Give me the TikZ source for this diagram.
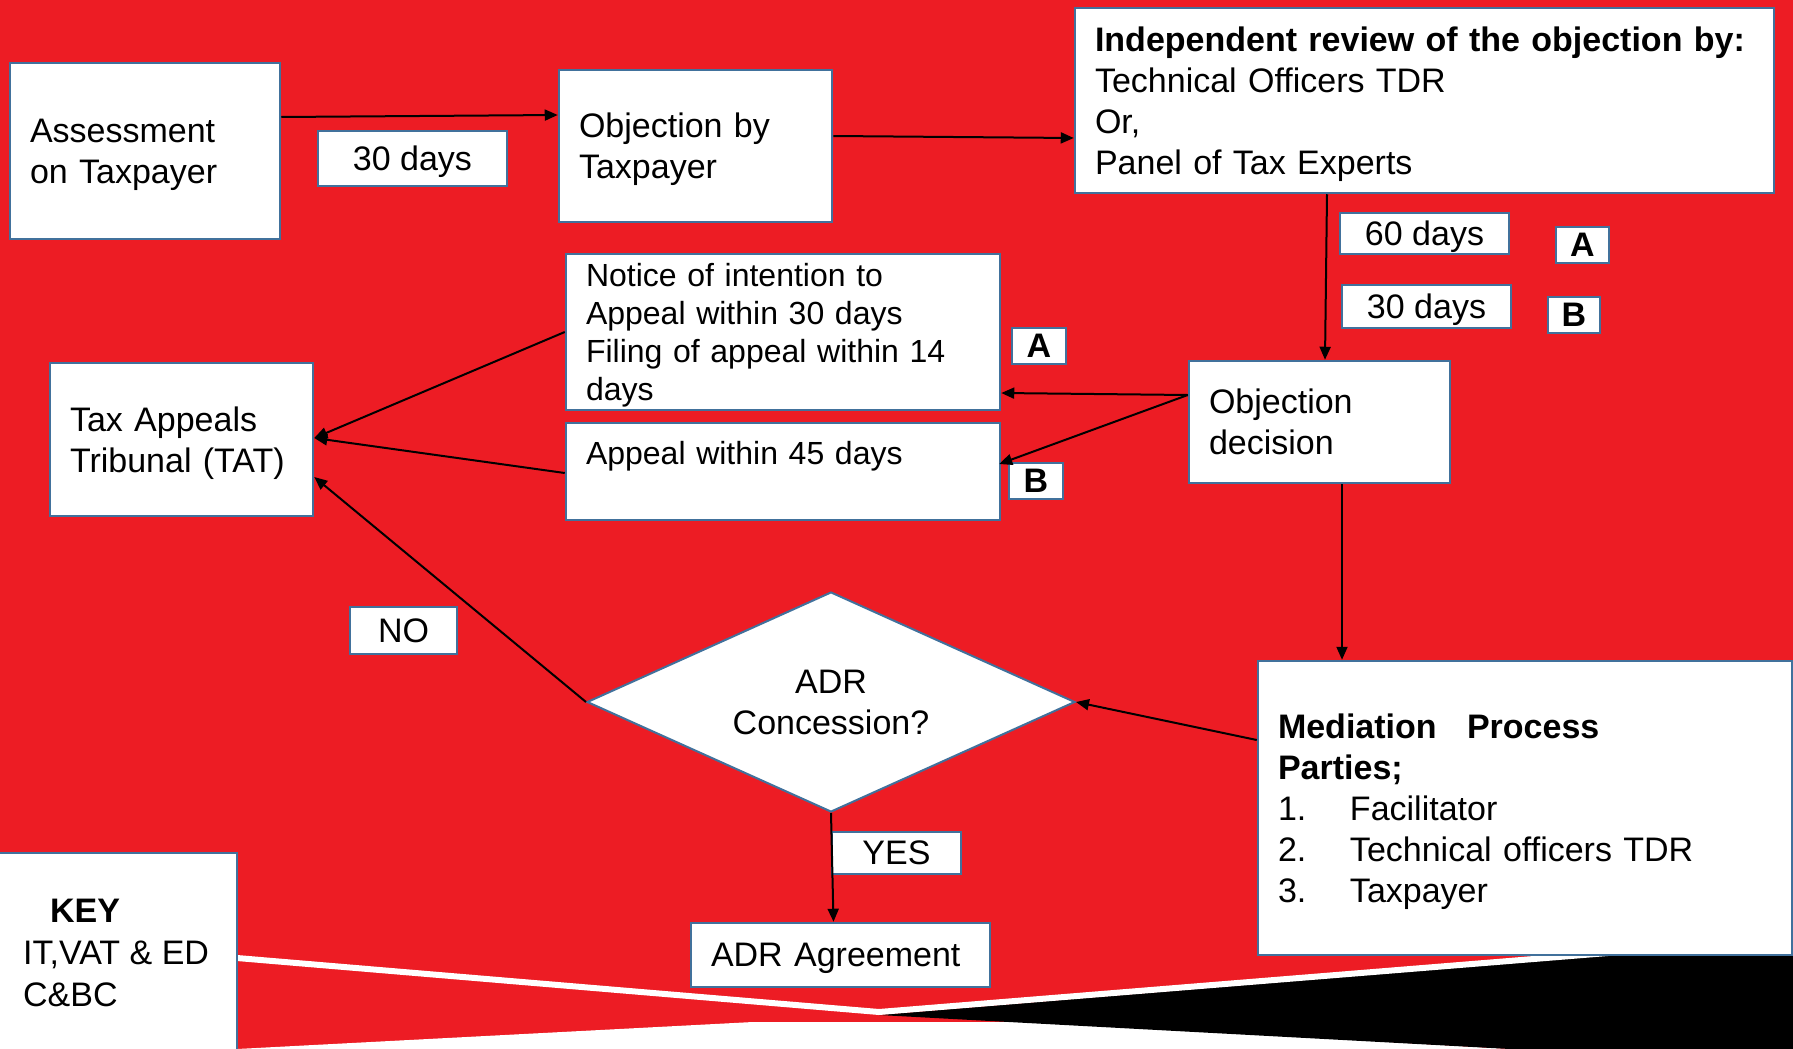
\documentclass[tikz,border=0pt]{standalone}
\usepackage{fontspec}
\setmainfont{Liberation Sans}
\usetikzlibrary{arrows.meta,shapes.geometric,calc}
\definecolor{bgred}{RGB}{237,28,36}
\definecolor{boxblue}{RGB}{65,113,156}
\newcommand\nodp[1]{\raisebox{0pt}[\height][0pt]{#1}}
\begin{document}
\begin{tikzpicture}[x=1pt,y=-1pt,
  bx/.style={draw=boxblue, line width=2.5pt, fill=white, inner sep=0pt,
    font=\fontsize{34}{41}\selectfont, align=left},
  lab/.style={bx, align=center, text depth=0pt},
  arr/.style={-{Triangle[length=13pt,width=11pt]}, line width=2pt, black}]
\useasboundingbox (0,0) rectangle (1793,1049);
\clip (0,0) rectangle (1793,1049);
% background
\fill[bgred] (0,0) rectangle (1793,1049);
\fill[white] (237,1049) -- (753,1022) -- (1040,1022) -- (1510,1049) -- cycle;
\fill[black] (879,1015) -- (1793,940) -- (1793,1049) -- (1510,1049) -- cycle;
\draw[white, line width=6pt, line join=miter] (237,958) -- (879,1012) -- (1793,938);

% boxes
\node[bx, minimum width=270pt, minimum height=176pt, text width=230pt] (assess) at (145,151)
  {Assessment\\\nodp{on Taxpayer}};
\node[bx, minimum width=273pt, minimum height=152pt, text width=233pt] (obj) at (695.5,146)
  {Objection by\\\nodp{Taxpayer}};
\node[bx, minimum width=699pt, minimum height=185pt, text width=659pt] (review) at (1424.5,100.5)
  {\textbf{Independent review of the objection by:}\\Technical Officers TDR\\Or,\\\nodp{Panel of Tax Experts}};
\node[lab, minimum width=189pt, minimum height=55pt] (d30a) at (412.5,158.5) {30 days};
\node[bx, minimum width=263pt, minimum height=153pt, text width=223pt] (tat) at (181.5,439.5)
  {Tax Appeals\\\nodp{Tribunal (TAT)}};
\node[bx, minimum width=434pt, minimum height=156pt, text width=394pt,
  font=\fontsize{32}{38}\selectfont] (notice) at (783,332)
  {Notice of intention to\\Appeal within 30 days\\Filing of appeal within 14\\\nodp{days}};
\node[bx, minimum width=434pt, minimum height=97pt, text width=394pt,
  font=\fontsize{32}{38}\selectfont] (appeal) at (783,471.5)
  {Appeal within 45 days\\\mbox{}};
\node[lab, minimum width=54pt, minimum height=36pt, font=\fontsize{34}{41}\selectfont\bfseries] (labA1) at (1039,346) {A};
\node[lab, minimum width=54pt, minimum height=36pt, font=\fontsize{34}{41}\selectfont\bfseries] (labB1) at (1036,481) {B};
\node[bx, minimum width=261pt, minimum height=122pt, text width=221pt] (dec) at (1319.5,422)
  {Objection\\decision};
\node[lab, minimum width=169pt, minimum height=41pt] (d60) at (1424.5,233.5) {60 days};
\node[lab, minimum width=53pt, minimum height=36pt, font=\fontsize{34}{41}\selectfont\bfseries] (labA2) at (1582.5,245) {A};
\node[lab, minimum width=169pt, minimum height=43pt] (d30b) at (1426.5,306.5) {30 days};
\node[lab, minimum width=52pt, minimum height=36pt, font=\fontsize{34}{41}\selectfont\bfseries] (labB2) at (1574,315) {B};
\node[bx, minimum width=534pt, minimum height=294pt, text width=494pt] (med) at (1525,808)
  {\textbf{Mediation\hspace{19pt} Process}\\\textbf{Parties;}\\
   \makebox[72pt][l]{1.}Facilitator\\
   \makebox[72pt][l]{2.}Technical officers TDR\\
   \nodp{\makebox[72pt][l]{3.}Taxpayer}};
\node[diamond, aspect=2.2, draw=boxblue, line width=2pt, fill=white, inner sep=0pt,
  minimum width=488pt, minimum height=220pt, align=center,
  font=\fontsize{34}{41}\selectfont] (dia) at (831,702) {ADR\\Concession?};
\node[lab, minimum width=107pt, minimum height=47pt] (no) at (403.5,630.5) {NO};
\node[lab, minimum width=129pt, minimum height=42pt] (yes) at (896.5,853) {YES};
\node[lab, minimum width=299pt, minimum height=64pt, text width=259pt, align=left] (adr) at (840.5,955) {ADR Agreement};
\node[bx, minimum width=242pt, minimum height=210pt] (key) at (116,958) {};
\node[anchor=west, align=left, inner sep=0pt, font=\fontsize{34}{42}\selectfont] (keytext) at (23,953)
  {\hspace{27pt}\textbf{KEY}\\IT,VAT \& ED\\C\&BC};

% connectors
\draw[arr] ([yshift=34pt]assess.east) -- ([yshift=31pt]obj.west);
\draw[arr] ([yshift=10pt]obj.east) -- ([yshift=-37.5pt]review.west);
\draw[arr] ([xshift=-97.5pt]review.south) -- ([xshift=5.5pt]dec.north);
\draw[arr] ([yshift=27pt]dec.west) -- ([yshift=-61pt]notice.east);
\draw[arr] ([yshift=27pt]dec.west) -- ([yshift=7.5pt,xshift=-2pt]appeal.east);
\draw[arr] ([xshift=22.5pt]dec.south) -- ([xshift=-183pt]med.north);
\draw[arr] ([yshift=68pt]med.west) -- (dia.east);
\draw[arr] (notice.west) -- ([yshift=1.5pt]tat.east);
\draw[arr] ([yshift=-1.5pt]appeal.west) -- ([yshift=1.5pt]tat.east);
\draw[arr] (dia.west) -- ([yshift=-37.5pt]tat.east);
\draw[arr] (dia.south) -- ([xshift=-7pt]adr.north);
\end{tikzpicture}
\end{document}
